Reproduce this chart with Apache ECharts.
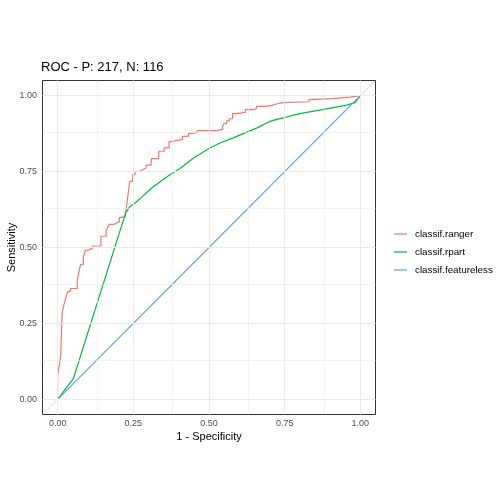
<!DOCTYPE html>
<html>
<head>
<meta charset="utf-8">
<script src="https://cdn.jsdelivr.net/npm/echarts@6/dist/echarts.min.js"></script>
<style>
html,body{margin:0;padding:0;background:#fff;}
#chart{width:504px;height:504px;}
</style>
</head>
<body>
<div id="chart"></div>
<script>
const chartTitle = 'ROC - P: 217, N: 116';
const seriesNames = ['classif.ranger', 'classif.rpart', 'classif.featureless'];
const seriesColors = ['#F8766D', '#00BA38', '#619CFF'];

const rangerFpr = [0, 0, 0.0055, 0.010, 0.015, 0.021, 0.027, 0.033, 0.042, 0.065, 0.071, 0.076, 0.085, 0.091, 0.097, 0.104, 0.115, 0.143, 0.160, 0.166, 0.171, 0.186, 0.195, 0.204, 0.214, 0.224, 0.229, 0.233, 0.238, 0.248, 0.256, 0.273, 0.281, 0.292, 0.309, 0.334, 0.352, 0.368, 0.377, 0.395, 0.412, 0.432, 0.439, 0.458, 0.463, 0.525, 0.545, 0.549, 0.558, 0.567, 0.578, 0.593, 0.620, 0.648, 0.657, 0.690, 0.708, 0.716, 0.742, 0.830, 0.837, 0.907, 0.966, 1.0];
const rangerTpr = [0, 0.080, 0.113, 0.146, 0.286, 0.312, 0.335, 0.355, 0.365, 0.393, 0.422, 0.444, 0.468, 0.489, 0.493, 0.497, 0.505, 0.537, 0.553, 0.568, 0.576, 0.581, 0.585, 0.599, 0.602, 0.613, 0.645, 0.678, 0.718, 0.740, 0.751, 0.757, 0.762, 0.771, 0.793, 0.817, 0.828, 0.849, 0.853, 0.855, 0.866, 0.875, 0.878, 0.880, 0.885, 0.889, 0.898, 0.908, 0.917, 0.924, 0.941, 0.945, 0.954, 0.958, 0.965, 0.968, 0.971, 0.977, 0.980, 0.987, 0.990, 0.995, 1.0, 1.0];

const rpartFpr = [0, 0.052, 0.225, 0.238, 0.254, 0.272, 0.316, 0.360, 0.404, 0.447, 0.500, 0.538, 0.582, 0.625, 0.659, 0.692, 0.708, 0.750, 0.800, 0.875, 0.955, 0.982, 1.0];
const rpartTpr = [0, 0.068, 0.615, 0.634, 0.645, 0.661, 0.700, 0.732, 0.760, 0.793, 0.826, 0.845, 0.862, 0.880, 0.894, 0.911, 0.918, 0.928, 0.941, 0.954, 0.969, 0.977, 1.0];

const featurelessFpr = [0, 1];
const featurelessTpr = [0, 1];

const axisMin = -0.05;
const axisMax = 1.05;
const majorTicks = [0, 0.25, 0.5, 0.75, 1];
const minorTicks = [0.125, 0.375, 0.625, 0.875];
const tickLabels = ['0.00', '0.25', '0.50', '0.75', '1.00'];
const refLine = [axisMin, axisMax];

const xTitle = '1 - Specificity';
const yTitle = 'Sensitivity';

const zip = (xs, ys) => xs.map((x, i) => [x, ys[i]]);
const fmt = v => {
  const i = majorTicks.findIndex(t => Math.abs(t - v) < 1e-9);
  return i >= 0 ? tickLabels[i] : '';
};

const gridLines = [];
majorTicks.forEach(v => {
  gridLines.push({xAxis: v, lineStyle: {width: 1, color: '#EBEBEB', type: 'solid'}});
  gridLines.push({yAxis: v, lineStyle: {width: 1, color: '#EBEBEB', type: 'solid'}});
});
minorTicks.forEach(v => {
  gridLines.push({xAxis: v, lineStyle: {width: 0.6, color: '#EBEBEB', type: 'solid'}});
  gridLines.push({yAxis: v, lineStyle: {width: 0.6, color: '#EBEBEB', type: 'solid'}});
});

const font = 'Liberation Sans, Arial, sans-serif';
const chart = echarts.init(document.getElementById('chart'), null, {renderer: 'canvas'});

const axisCommon = {
  type: 'value',
  min: axisMin,
  max: axisMax,
  axisLine: {show: false},
  splitLine: {show: false},
  axisTick: {show: true, customValues: majorTicks, length: 3, lineStyle: {color: '#333333', width: 1}},
  axisLabel: {customValues: majorTicks, formatter: fmt, color: '#4D4D4D', fontSize: 9, fontFamily: font},
  nameLocation: 'middle',
  nameMoveOverlap: false,
  nameTextStyle: {color: '#000', fontSize: 11, fontFamily: font}
};

chart.setOption({
  animation: false,
  backgroundColor: '#fff',
  title: {
    text: chartTitle,
    left: 41,
    top: 61,
    padding: 0,
    textStyle: {color: '#000', fontSize: 13, fontWeight: 'normal', fontFamily: font}
  },
  grid: {
    left: 42.5, right: 128.5, top: 80.5, bottom: 89.5,
    show: true, backgroundColor: '#fff', borderColor: '#333333', borderWidth: 1,
    containLabel: false,
    outerBoundsMode: 'none'
  },
  legend: {
    data: seriesNames,
    orient: 'vertical',
    left: 394,
    top: 228,
    padding: 0,
    itemWidth: 13,
    itemHeight: 1.2,
    itemGap: 6,
    icon: 'rect',
    textStyle: {color: '#000', fontSize: 9.8, fontFamily: font, lineHeight: 12, padding: [0, 0, 0, 3]}
  },
  xAxis: Object.assign({}, axisCommon, {
    name: xTitle, nameGap: 17,
    axisLabel: Object.assign({}, axisCommon.axisLabel, {margin: 5})
  }),
  yAxis: Object.assign({}, axisCommon, {
    name: yTitle, nameGap: 25,
    axisLabel: Object.assign({}, axisCommon.axisLabel, {margin: 5.5})
  }),
  series: [
    {
      name: 'reference',
      type: 'line',
      z: 1,
      data: zip(refLine, refLine),
      showSymbol: false,
      symbol: 'none',
      silent: true,
      lineStyle: {color: '#BEBEBE', width: 1, type: 'dotted'},
      markLine: {
        silent: true,
        symbol: ['none', 'none'],
        label: {show: false},
        emphasis: {disabled: true},
        animation: false,
        lineStyle: {type: 'solid', color: '#EBEBEB'},
        data: gridLines
      }
    },
    {
      name: seriesNames[0],
      type: 'line',
      z: 3,
      step: 'end',
      data: zip(rangerFpr, rangerTpr),
      showSymbol: false,
      symbol: 'none',
      color: seriesColors[0],
      lineStyle: {color: seriesColors[0], width: 1.2}
    },
    {
      name: seriesNames[1],
      type: 'line',
      z: 3,
      data: zip(rpartFpr, rpartTpr),
      showSymbol: false,
      symbol: 'none',
      color: seriesColors[1],
      lineStyle: {color: seriesColors[1], width: 1.2}
    },
    {
      name: seriesNames[2],
      type: 'line',
      z: 3,
      data: zip(featurelessFpr, featurelessTpr),
      showSymbol: false,
      symbol: 'none',
      color: seriesColors[2],
      lineStyle: {color: seriesColors[2], width: 1.2}
    }
  ]
});
</script>
</body>
</html>
